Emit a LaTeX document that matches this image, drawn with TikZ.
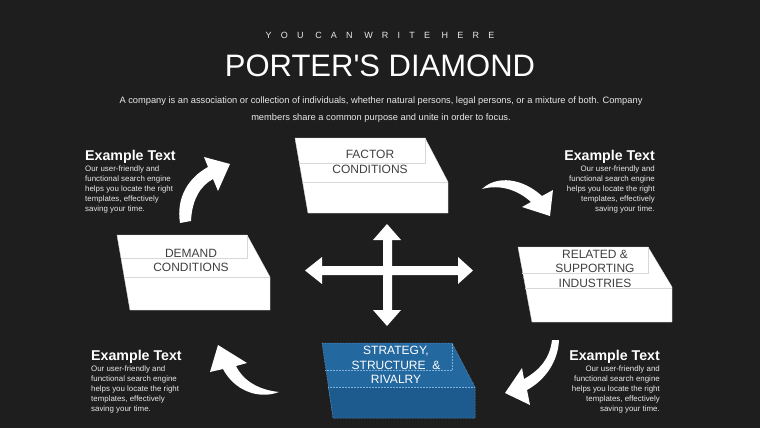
\documentclass[tikz,border=0pt]{standalone}
\usepackage{fontspec}
\setmainfont{Liberation Sans}
\definecolor{bg}{HTML}{1E1E1E}
\definecolor{boxtext}{HTML}{404040}
\definecolor{edgegray}{HTML}{D8D8D8}
\definecolor{bluetop}{HTML}{2468A0}
\definecolor{bluefront}{HTML}{1D5B8E}
\definecolor{blueedge}{HTML}{7FB0D8}
\definecolor{softwhite}{HTML}{E8E8E8}
\tikzset{
  boxshape/.style={fill=white, draw=edgegray, line width=0.4pt},
  inneredge/.style={draw=edgegray, line width=0.5pt},
  blueinner/.style={draw=blueedge, line width=0.5pt, densely dotted},
  boxtxt/.style={font=\fontsize{12}{14.5}\selectfont, text=boxtext, align=center, inner sep=0pt},
  headtxt/.style={font=\bfseries\fontsize{14.2}{16}\selectfont, text=white, inner sep=0pt},
  bodytxt/.style={font=\fontsize{7.9}{10}\selectfont, text=softwhite, inner sep=0pt},
  desctxt/.style={font=\fontsize{9.3}{11}\selectfont, text=softwhite, inner sep=0pt, anchor=base},
}
\begin{document}
\begin{tikzpicture}[x=1pt,y=-1pt]
\fill[bg] (0,0) rectangle (760,428);
\useasboundingbox (0,0) rectangle (760,428);

% titles
\node[font=\fontsize{9}{11}\selectfont\addfontfeature{LetterSpace=102}, text=softwhite, inner sep=0pt, anchor=base] (sub) at (380,39) {YOU CAN WRITE HERE};
\node[font=\fontsize{31}{34}\selectfont, text=white, inner sep=0pt, anchor=base] (title) at (380,76) {PORTER{\XeTeXglyph\XeTeXcharglyph"0027}S DIAMOND};
\node[desctxt] (desc1) at (381,103)
  {A company is an association or collection of individuals, whether natural persons, legal persons, or a mixture of both. Company};
\node[desctxt] (desc2) at (381,120)
  {members share a common purpose and unite in order to focus.};

% FACTOR CONDITIONS box
\path[boxshape] (295,138) -- (425,138) -- (448,182) -- (448,213) -- (308,213) -- cycle;
\draw[inneredge] (299,163) -- (425,163) -- (425,138);
\draw[inneredge] (303,182) -- (448,182);
\node[boxtxt] (factor) at (370,162) {FACTOR\\CONDITIONS};

% DEMAND CONDITIONS box
\path[boxshape] (117,235) -- (247,235) -- (270,277) -- (270,310) -- (130,310) -- cycle;
\draw[inneredge] (121,258) -- (247,258) -- (247,235);
\draw[inneredge] (124,277) -- (270,277);
\node[boxtxt] (demand) at (191,260.5) {DEMAND\\CONDITIONS};

% RELATED box
\path[boxshape] (518,247) -- (648,247) -- (672,287) -- (672,322) -- (532,322) -- cycle;
\draw[inneredge] (522,273) -- (648,273) -- (648,247);
\draw[inneredge] (525,288) -- (672,288);
\node[boxtxt] (related) at (595,268.5) {RELATED \&\\SUPPORTING\\INDUSTRIES};

% STRATEGY box (blue)
\fill[bluetop] (322,343) -- (452,343) -- (475,387) -- (475,418) -- (333,418) -- cycle;
\fill[bluefront] (328,387) -- (475,387) -- (475,418) -- (333,418) -- cycle;
\draw[blueinner] (325,370) -- (452,370) -- (452,343);
\draw[blueinner] (328,387) -- (475,387);
\draw[blueinner] (322,343) -- (452,343) -- (475,387) -- (475,418) -- (333,418) -- cycle;
\node[boxtxt, text=white] (strategy) at (396,365) {STRATEGY,\\STRUCTURE \ \&\\RIVALRY};

% central cross arrow
\fill[white] (387,224) -- (401,240) -- (392,240) -- (392,266) -- (458,266) -- (458,257) -- (473,270.5)
  -- (458,284) -- (458,275) -- (392,275) -- (392,310) -- (401,310) -- (387,326) -- (373,310)
  -- (383,310) -- (383,275) -- (322,275) -- (322,284) -- (305,270.5) -- (322,257) -- (322,266)
  -- (383,266) -- (383,240) -- (373,240) -- cycle;

% curved arrows
\fill[white] (180,223) .. controls (176,198) and (188,178) .. (208,167) -- (204,157) -- (230,164)
  -- (218,191) -- (213,179) .. controls (200,186) and (192,200) .. (191,221) -- cycle;
\fill[white] (482,189) .. controls (497,175) and (522,178) .. (542,196) -- (553,190) -- (550,216)
  -- (522,207) -- (531,202) .. controls (518,190) and (500,184) .. (482,189) -- cycle;
\fill[white] (279,392) .. controls (258,400) and (234,390) .. (223,369) -- (210,372) -- (218,345)
  -- (247,363) -- (236,366) .. controls (244,382) and (260,390) .. (279,392) -- cycle;
\fill[white] (552,340) .. controls (550,358) and (540,370) .. (524,379) -- (522,368) -- (505,393)
  -- (530,405) -- (527,390) .. controls (545,380) and (558,362) .. (559,340) -- cycle;

% example texts
\node[headtxt, anchor=base west] (h1) at (85,160) {Example Text};
\node[bodytxt, anchor=north west, align=left] (b1) at (85,165.3)
  {Our user-friendly and\\functional search engine\\helps you locate the right\\templates, effectively\\saving your time.};

\node[headtxt, anchor=base east] (h2) at (655,160) {Example Text};
\node[bodytxt, anchor=north east, align=right] (b2) at (655,165.3)
  {Our user-friendly and\\functional search engine\\helps you locate the right\\templates, effectively\\saving your time.};

\node[headtxt, anchor=base west] (h3) at (91,360) {Example Text};
\node[bodytxt, anchor=north west, align=left] (b3) at (91,365.3)
  {Our user-friendly and\\functional search engine\\helps you locate the right\\templates, effectively\\saving your time.};

\node[headtxt, anchor=base east] (h4) at (660,360) {Example Text};
\node[bodytxt, anchor=north east, align=right] (b4) at (660,365.3)
  {Our user-friendly and\\functional search engine\\helps you locate the right\\templates, effectively\\saving your time.};
\end{tikzpicture}
\end{document}
